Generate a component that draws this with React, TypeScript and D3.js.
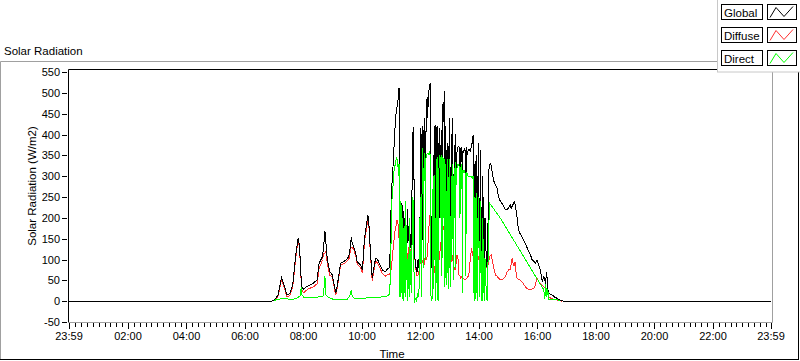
import React from 'react';
import * as d3 from 'd3';

// time in minutes since 00:00, value in W/m2
const globalData: [number, number][] = [
  [0,0],[415,0],[420,2],[428,15],[435,57],[440,40],[446,15],[452,18],[458,40],[464,110],[469,152],[472,130],[476,35],[480,29],[488,36],[495,40],[501,44],[508,51],[512,91],[516,100],[519,107],[522,140],[524,169],[526,140],[529,99],[534,71],[539,63],[543,40],[546,19],[549,35],[551,51],[556,91],[563,95],[568,100],[573,107],[576,130],[578,153],[580,140],[583,131],[588,110],[590,95],[597,87],[601,75],[605,151],[609,180],[612,207],[614,190],[616,147],[619,90],[621,55],[625,85],[628,103],[632,100],[635,91],[642,75],[648,71],[652,77],[655,79],[657,85],
  [659,200],[661,271],[664,330],[667,400],[669,439],[671,463],[673,470],[675,500],[676,511],[677,420],[678,200],[679,160],[680,240],[681,120],[682,180],[683,110],[684,230],[685,150],[686,130],[688,200],[689,100],[690,170],[692,120],[693,220],[694,140],[696,180],[697,100],[699,160],[701,120],[703,300],[704,380],[705,419],[706,400],[707,250],[708,140],[709,90],[711,80],[713,70],[715,100],[717,80],[719,200],[720,300],[721,415],[722,200],[723,110],[724,350],[725,420],[726,180],[727,400],[728,440],[729,420],[730,150],[731,380],[732,460],[733,480],[734,490],[735,440],[736,500],[738,510],[740,523],[741,350],[742,100],[743,80],[745,130],[746,200],[747,120],[748,420],[749,250],[750,423],[751,130],[752,160],[753,400],[754,420],[755,200],[756,90],[757,140],[758,380],[759,415],[760,200],[761,330],[763,410],[764,150],[765,300],[766,470],[767,479],[768,430],[769,505],[770,300],[771,160],[772,420],[773,260],[774,120],[775,380],[776,200],[777,110],[778,300],[779,439],[780,150],[781,310],[782,180],[783,400],[784,200],[785,439],[786,200],[787,300],[788,150],[789,350],[790,250],[791,400],[792,180],[793,330],[795,360],[797,370],[799,372],[800,340],[801,250],[802,365],[804,370],[805,370],[806,150],[807,360],[808,355],[810,365],[812,360],[813,200],[814,370],[816,350],[818,365],[820,365],[822,360],[824,370],[826,380],[828,399],[829,300],[830,150],[831,330],[832,90],[834,350],[835,120],[836,300],[837,90],[839,380],[840,250],[841,100],[843,363],[844,200],[845,110],[847,300],[848,95],[850,250],[851,80],[853,200],[855,90],[857,80],[858,120],[859,250],
  [860,311],[861,320],[863,331],[865,325],[867,311],[870,290],[873,280],[877,271],[880,250],[884,239],[887,235],[891,227],[894,219],[898,219],[901,225],[904,231],[906,222],[908,228],[911,235],[913,239],[915,225],[918,203],[921,171],[925,160],[928,155],[931,148],[935,139],[938,130],[942,119],[946,110],[949,99],[953,95],[956,91],[959,99],[962,88],[966,75],[968,60],[970,47],[972,55],[973,59],[975,50],[977,40],[978,70],[980,53],[982,19],[986,17],[990,15],[995,10],[1000,7],[1005,3],[1010,1],[1013,0],[1439,0]
];

const diffuseData: [number, number][] = [
  [420,0],[428,12],[435,52],[440,35],[446,10],[452,14],[458,35],[464,102],[469,148],[472,125],[476,30],[480,20],[488,28],[495,32],[501,35],[508,42],[512,80],[516,90],[519,100],[522,115],[524,115],[526,120],[529,90],[534,62],[539,58],[543,35],[546,14],[549,30],[551,45],[556,86],[563,90],[568,95],[573,100],[576,118],[578,130],[580,128],[583,126],[588,104],[590,90],[597,80],[601,68],[605,142],[609,170],[612,200],[614,185],[616,140],[619,82],[621,48],[625,78],[628,96],[632,92],[635,84],[642,66],[648,60],[652,64],[655,64],[657,65],
  [659,70],[662,100],[665,140],[668,170],[672,195],[675,180],[677,120],[679,150],[681,110],[683,130],[685,100],[688,140],[690,120],[693,100],[696,130],[699,110],[702,140],[704,160],[706,150],[708,110],[710,80],[713,60],[716,65],[719,90],[721,110],[724,95],[727,85],[730,110],[733,100],[736,150],[738,190],[740,211],[742,200],[744,155],[746,120],[748,80],[750,65],[752,75],[754,60],[756,80],[758,100],[760,120],[762,140],[764,160],[766,170],[768,179],[770,160],[772,130],[774,125],[776,130],[778,110],[780,100],[782,90],[785,111],[787,95],[789,80],[791,75],[793,90],[795,111],[797,100],[799,63],[801,60],[803,55],[805,60],[808,55],[812,51],[815,55],[818,60],[820,70],[822,100],[825,127],[827,110],[829,107],[832,95],[835,110],[838,100],[840,107],[843,95],[846,111],[848,90],[850,83],[853,90],[857,79],[860,95],[862,107],[865,111],[867,100],[870,80],[874,63],[877,60],[880,55],[884,51],[888,52],[891,55],[894,59],[898,71],[901,75],[904,75],[908,103],[910,90],[912,85],[914,95],[916,70],[918,55],[921,52],[925,50],[928,47],[932,40],[935,35],[939,30],[942,28],[946,27],[949,30],[953,32],[956,40],[959,55],[962,48],[966,43],[970,38],[973,35],[977,30],[980,25],[983,10],[986,8],[990,6],[995,4],[1000,3],[1005,1],[1010,0]
];

const directData: [number, number][] = [
  [420,2],[430,5],[440,6],[450,5],[460,5],[468,8],[470,10],[473,12],[475,30],[476,35],[477,15],[480,10],[490,8],[500,9],[510,10],[520,12],[522,30],[524,60],[525,35],[526,15],[530,10],[540,5],[550,5],[560,4],[570,5],[575,12],[578,27],[580,12],[585,6],[600,6],[610,8],[620,10],[630,8],[640,10],[650,12],[655,15],[657,20],
  [659,100],[661,239],[663,260],[665,310],[667,320],[669,335],[671,343],[673,340],[675,300],[676,330],[677,40],[678,10],[679,100],[680,240],[681,20],[682,150],[683,5],[684,200],[685,60],[686,0],[688,180],[689,10],[690,240],[691,50],[692,150],[693,0],[694,100],[696,30],[697,200],[698,10],[700,120],[702,20],[703,200],[704,249],[705,240],[706,230],[707,10],[708,0],[710,5],[712,0],[714,20],[716,10],[718,50],[719,200],[720,250],[721,100],[722,10],[723,250],[724,300],[725,367],[726,80],[727,300],[728,350],[729,355],[730,100],[731,340],[732,350],[734,355],[736,352],[738,358],[740,350],[741,30],[742,0],[743,10],[744,5],[745,200],[746,300],[747,30],[748,303],[749,100],[750,200],[751,0],[752,50],[753,300],[754,345],[755,100],[756,0],[757,50],[758,320],[759,350],[760,345],[761,200],[762,345],[763,350],[764,60],[765,300],[766,345],[767,340],[768,200],[769,340],[770,35],[771,100],[772,330],[773,150],[774,40],[775,340],[776,100],[777,30],[778,250],[779,340],[780,80],[781,200],[782,35],[783,300],[784,100],[785,330],[786,150],[787,300],[788,50],[789,320],[790,200],[791,335],[792,80],[793,300],[795,320],[797,330],[799,325],[801,200],[802,320],[804,325],[805,320],[806,20],[807,315],[808,310],[810,312],[812,305],[813,60],[814,310],[816,305],[818,300],[820,300],[822,298],[824,300],[826,295],[828,300],[829,100],[830,0],[831,250],[832,5],[834,260],[835,20],[836,200],[837,0],[839,250],[840,150],[841,10],[843,240],[844,80],[845,0],[847,200],[848,0],[850,150],[851,0],[853,100],[855,10],[857,0],[858,30],[859,150],
  [862,235],[884,199],[930,110],[973,27],[975,5],[977,40],[979,10],[981,30],[983,3],[990,5],[1000,5],[1006,0]
];

const yTicks = [-50, 0, 50, 100, 150, 200, 250, 300, 350, 400, 450, 500, 550];
const xTickMinutes = [-1, 120, 240, 360, 480, 600, 720, 840, 960, 1080, 1200, 1320, 1439];
const xTickLabels = ['23:59', '02:00', '04:00', '06:00', '08:00', '10:00', '12:00', '14:00', '16:00', '18:00', '20:00', '22:00', '23:59'];

const seriesNames = ['Global', 'Diffuse', 'Direct'];
const seriesColors = ['#000000', '#ff3030', '#00ff00'];

const FONT = "'Liberation Sans', Arial, sans-serif";

export default function App() {
  const W = 800, H = 361;
  const left = 68.5, right = 772.5, top = 69.5, bottom = 322.5;
  const x = d3.scaleLinear().domain([-1, 1439]).range([69, 771]);
  const y = d3.scaleLinear().domain([-50, 550]).range([322, 72]);
  const line = d3.line<[number, number]>().x(d => x(d[0])).y(d => y(d[1]));

  const minorTicks: number[] = [];
  for (let m = 12; m < 1439; m += 12) if (m % 120 !== 0) minorTicks.push(m);

  const drawOrder = [
    { data: diffuseData, color: seriesColors[1] },
    { data: globalData, color: seriesColors[0] },
    { data: directData, color: seriesColors[2] },
  ];

  return (
    <svg width={W} height={H} style={{ position: 'absolute', left: 0, top: 0, background: '#fff' }} fontFamily={FONT}>
      <rect x={0} y={0} width={W} height={H} fill="#fff" />
      {/* outer panel frame */}
      <line x1={0.5} y1={61.5} x2={799} y2={61.5} stroke="#a0a0a0" />
      <line x1={0.5} y1={61.5} x2={0.5} y2={360} stroke="#a0a0a0" />
      <line x1={0} y1={359.5} x2={799} y2={359.5} stroke="#000" />
      <line x1={798.5} y1={61.5} x2={798.5} y2={360} stroke="#000" />
      <text x={4} y={55} fontSize={11.5} fill="#000">Solar Radiation</text>

      {/* plot frame */}
      <line x1={left} y1={top} x2={right} y2={top} stroke="#000" />
      <line x1={left} y1={top} x2={left} y2={bottom} stroke="#000" />
      <line x1={left} y1={bottom} x2={right} y2={bottom} stroke="#a0a0a0" />
      <line x1={right} y1={top} x2={right} y2={bottom} stroke="#a0a0a0" />

      <defs>
        <clipPath id="plotclip">
          <rect x={left + 0.5} y={top + 0.5} width={right - left - 1} height={bottom - top - 1} />
        </clipPath>
      </defs>
      <g clipPath="url(#plotclip)">
        {drawOrder.map((s, i) => (
          <path key={i} d={line(s.data) || ''} fill="none" stroke={s.color} strokeWidth={1} shapeRendering="crispEdges" />
        ))}
      </g>

      {/* y axis */}
      {yTicks.map(t => (
        <g key={t}>
          <line x1={62} x2={67} y1={Math.round(y(t)) + 0.5} y2={Math.round(y(t)) + 0.5} stroke="#000" />
          <text x={60} y={y(t) + 4} fontSize={11} textAnchor="end" fill="#000">{t}</text>
        </g>
      ))}
      <text transform={`translate(36,186) rotate(-90)`} fontSize={11.5} textAnchor="middle" fill="#000">Solar Radiation (W/m2)</text>

      {/* x axis */}
      {minorTicks.map(m => (
        <line key={m} x1={Math.round(x(m)) + 0.5} x2={Math.round(x(m)) + 0.5} y1={323} y2={327} stroke="#000" />
      ))}
      {xTickMinutes.map((m, i) => (
        <g key={i}>
          <line x1={Math.round(x(m)) + 0.5} x2={Math.round(x(m)) + 0.5} y1={323} y2={329} stroke="#000" />
          <text x={x(m)} y={340} fontSize={11} textAnchor="middle" fill="#000">{xTickLabels[i]}</text>
        </g>
      ))}
      <text x={392} y={358} fontSize={11.5} textAnchor="middle" fill="#000">Time</text>

      {/* legend */}
      <rect x={717.5} y={-1} width={84} height={73} fill="#fff" stroke="#c8c8c8" />
      {seriesNames.map((name, i) => {
        const by = 4.5 + i * 23;
        return (
          <g key={name}>
            <rect x={721.5} y={by} width={41} height={15} fill="#fff" stroke="#000" />
            <text x={724} y={by + 12} fontSize={11.5} fill="#000">{name}</text>
            <rect x={767.5} y={by} width={29} height={15} fill="#fff" stroke="#000" />
            <polyline points={`${770},${by + 13} ${776},${by + 3} ${784},${by + 12} ${793},${by + 2}`} fill="none" stroke={seriesColors[i]} strokeWidth={1} />
          </g>
        );
      })}
    </svg>
  );
}
